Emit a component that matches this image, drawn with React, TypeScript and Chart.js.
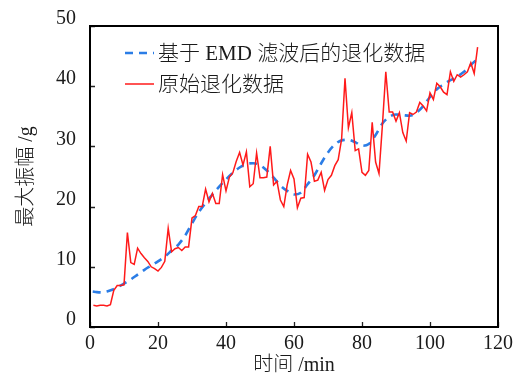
import React, { useEffect, useRef } from "react";
import { Chart, registerables } from "chart.js";

Chart.register(...registerables);

const rawTime = [
  1, 2, 3, 4, 5, 6, 7, 8, 9, 10, 11, 12, 13, 14, 15, 16, 17, 18, 19, 20,
  21, 22, 23, 24, 25, 26, 27, 28, 29, 30, 31, 32, 33, 34, 35, 36, 37, 38, 39, 40,
  41, 42, 43, 44, 45, 46, 47, 48, 49, 50, 51, 52, 53, 54, 55, 56, 57, 58, 59, 60,
  61, 62, 63, 64, 65, 66, 67, 68, 69, 70, 71, 72, 73, 74, 75, 76, 77, 78, 79, 80,
  81, 82, 83, 84, 85, 86, 87, 88, 89, 90, 91, 92, 93, 94, 95, 96, 97, 98, 99, 100,
  101, 102, 103, 104, 105, 106, 107, 108, 109, 110, 111, 112, 113, 114,
];
const rawValues = [
  3.6, 3.5, 3.6, 3.6, 3.5, 3.7, 6.1, 6.9, 6.9, 7.0, 15.7, 10.7, 10.4, 13.1, 12.2, 11.5, 10.9, 10.0, 9.7, 9.3,
  9.9, 10.9, 16.4, 12.5, 13.0, 13.2, 12.7, 13.3, 13.3, 18.1, 18.5, 20.0, 20.0, 22.9, 20.8, 22.2, 20.5, 20.5, 25.3, 22.6,
  24.9, 25.6, 27.5, 29.0, 26.9, 29.1, 23.3, 23.8, 28.9, 24.8, 24.8, 24.9, 30.0, 23.6, 24.2, 21.1, 20.0, 23.6, 26.0, 24.6,
  19.8, 21.4, 21.5, 28.7, 27.4, 24.2, 24.4, 25.7, 22.7, 24.5, 25.2, 26.8, 27.8, 31.2, 41.3, 33.1, 35.6, 29.3, 29.6, 25.7,
  25.2, 26.0, 34.0, 27.4, 25.5, 33.5, 42.4, 35.7, 35.7, 34.2, 35.6, 32.3, 30.9, 35.6, 35.3, 35.7, 37.3, 36.7, 35.9, 38.9,
  37.8, 40.5, 39.9, 39.0, 38.6, 42.4, 40.8, 41.9, 41.5, 41.9, 42.4, 43.9, 42.1, 46.5,
];

const smoothTime = [
  0.8, 2, 3.5, 5, 6.5, 8, 10, 12, 14, 16, 18, 20, 22, 24, 26, 28, 30, 32, 34, 36,
  38, 40, 42, 44, 46, 48, 50, 52, 54, 56, 58, 60, 62, 64, 66, 68, 70, 72, 74, 76,
  78, 80, 82, 84, 86, 88, 90, 92, 94, 96, 98, 100, 102, 104, 106, 108, 110, 112, 113.5,
];
const smoothValues = [
  5.9, 5.8, 5.75, 5.9, 6.2, 6.6, 7.2, 7.9, 8.7, 9.5, 10.2, 10.9, 11.7, 12.7, 13.7, 15.2, 17.2, 19.1, 20.6, 22.0,
  23.3, 24.5, 25.6, 26.5, 27.1, 27.2, 26.9, 26.0, 24.8, 23.5, 22.6, 22.0, 22.3, 23.7, 25.2, 27.2, 29.0, 30.3, 31.0, 31.1,
  30.7, 30.1, 30.4, 31.9, 33.8, 34.9, 35.3, 35.2, 35.1, 35.6, 36.7, 38.2, 39.5, 40.3, 41.0, 41.6, 42.4, 43.5, 44.3,
];

const xTicks = [0, 20, 40, 60, 80, 100, 120];
const yTicks = [0, 10, 20, 30, 40, 50];
const legendLabels = ["基于 EMD 滤波后的退化数据", "原始退化数据"];
const xTitle = "时间 /min";
const yTitle = "最大振幅 /g";

const FONT = "'Liberation Serif', 'Noto Sans CJK SC', serif";
const BLUE = "#2b7de6";
const RED = "#ff1a1a";
const TEXT = "#1a1a1a";

const framePlugin = {
  id: "frameAndLegend",
  afterDraw(chart: any) {
    const { ctx, chartArea } = chart;
    const { left, right, top, bottom } = chartArea;
    ctx.save();
    ctx.strokeStyle = "#222";
    ctx.lineWidth = 1.3;
    const xs = chart.scales.x;
    const ys = chart.scales.y;
    ctx.beginPath();
    xTicks.forEach((v) => {
      const px = Math.round(xs.getPixelForValue(v)) + 0.5;
      ctx.moveTo(px, bottom);
      ctx.lineTo(px, bottom - 5);
    });
    yTicks.forEach((v) => {
      const py = Math.round(ys.getPixelForValue(v)) + 0.5;
      ctx.moveTo(left, py);
      ctx.lineTo(left + 5, py);
    });
    ctx.stroke();
    ctx.strokeStyle = "#000";
    ctx.lineWidth = 2;
    ctx.strokeRect(left, top, right - left, bottom - top);

    const ds = chart.data.datasets;
    const rows = [
      { y: top + 27, d: ds[0] },
      { y: top + 58, d: ds[1] },
    ];
    rows.forEach((r) => {
      ctx.beginPath();
      ctx.strokeStyle = r.d.borderColor;
      ctx.lineWidth = r.d.borderWidth;
      ctx.setLineDash(r.d.borderDash || []);
      ctx.moveTo(left + 35, r.y);
      ctx.lineTo(left + 64, r.y);
      ctx.stroke();
      ctx.setLineDash([]);
      ctx.fillStyle = TEXT;
      ctx.font = `300 21px ${FONT}`;
      ctx.textBaseline = "middle";
      ctx.textAlign = "left";
      ctx.fillText(r.d.label, left + 68, r.y + 1);
    });
    ctx.restore();
  },
};

export default function App() {
  const ref = useRef<HTMLCanvasElement | null>(null);

  useEffect(() => {
    document.body.style.margin = "0";
    const canvas = ref.current;
    if (!canvas) return;
    const chart = new Chart(canvas, {
      type: "line",
      data: {
        datasets: [
          {
            label: legendLabels[0],
            data: smoothTime.map((x, i) => ({ x, y: smoothValues[i] })),
            borderColor: BLUE,
            borderWidth: 2.6,
            borderDash: [8, 6],
            pointRadius: 0,
            fill: false,
            cubicInterpolationMode: "monotone",
            order: 2,
          },
          {
            label: legendLabels[1],
            data: rawTime.map((x, i) => ({ x, y: rawValues[i] })),
            borderColor: RED,
            borderWidth: 1.5,
            pointRadius: 0,
            fill: false,
            tension: 0,
            order: 1,
          },
        ],
      },
      options: {
        animation: false,
        responsive: false,
        devicePixelRatio: 1,
        layout: { padding: { top: 22, right: 25, left: 0, bottom: 0 } },
        plugins: {
          legend: { display: false },
          tooltip: { enabled: false },
        },
        scales: {
          x: {
            type: "linear",
            min: 0,
            max: 120,
            afterBuildTicks: (scale: any) => {
              scale.ticks = xTicks.map((v) => ({ value: v }));
            },
            afterFit: (scale: any) => {
              scale.height = 51;
            },
            grid: { display: false, drawTicks: false },
            border: { display: false },
            ticks: {
              font: { family: FONT, size: 20 },
              color: TEXT,
              padding: 5,
              maxRotation: 0,
              autoSkip: false,
            },
            title: {
              display: true,
              text: xTitle,
              font: { family: FONT, size: 20, lineHeight: 1.1, weight: "300" },
              color: TEXT,
              padding: { top: 0, bottom: 1 },
            },
          },
          y: {
            type: "linear",
            min: 0,
            max: 50,
            afterBuildTicks: (scale: any) => {
              scale.ticks = yTicks.map((v) => ({ value: v }));
            },
            afterFit: (scale: any) => {
              scale.width = 90;
            },
            grid: { display: false, drawTicks: false },
            border: { display: false },
            ticks: {
              font: { family: FONT, size: 20 },
              color: TEXT,
              padding: 14,
              labelOffset: -7,
            },
            title: {
              display: true,
              text: yTitle,
              font: { family: FONT, size: 20, lineHeight: 1.1, weight: "300" },
              color: TEXT,
              padding: { top: 16, bottom: 0 },
            },
          },
        },
      },
      plugins: [framePlugin],
    } as any);
    return () => chart.destroy();
  }, []);

  return (
    <div style={{ position: "absolute", left: 0, top: 0, width: 523, height: 378 }}>
      <canvas ref={ref} width={523} height={378} style={{ width: 523, height: 378 }} />
    </div>
  );
}
